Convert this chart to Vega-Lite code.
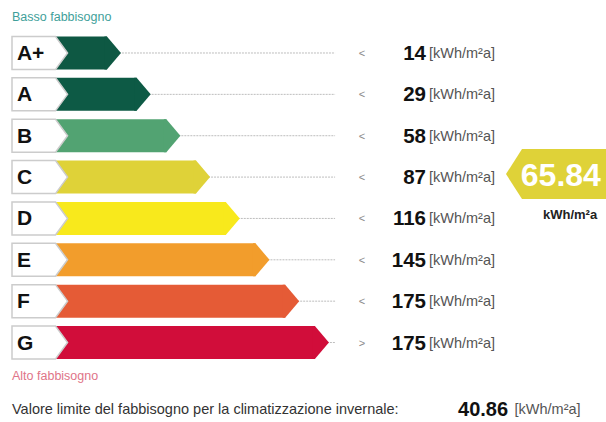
{
  "$schema": "https://vega.github.io/schema/vega-lite/v6.json",
  "width": 606,
  "height": 422,
  "autosize": "none",
  "padding": 0,
  "background": "white",
  "config": {"view": {"stroke": null}, "axis": {"disable": true}, "font": "Liberation Sans"},
  "data": {"values": [
    {"cls": "A+", "rank": 1, "limit": 14, "op": "<"},
    {"cls": "A", "rank": 2, "limit": 29, "op": "<"},
    {"cls": "B", "rank": 3, "limit": 58, "op": "<"},
    {"cls": "C", "rank": 4, "limit": 87, "op": "<"},
    {"cls": "D", "rank": 5, "limit": 116, "op": "<"},
    {"cls": "E", "rank": 6, "limit": 145, "op": "<"},
    {"cls": "F", "rank": 7, "limit": 175, "op": "<"},
    {"cls": "G", "rank": 8, "limit": 175, "op": ">"}
  ]},
  "resolve": {"scale": {"color": "independent"}},
  "layer": [
    {
      "mark": {"type": "rule", "color": "#bdbdbd", "strokeWidth": 1, "strokeDash": [2, 1]},
      "encoding": {
        "x": {"field": "rank", "type": "quantitative", "scale": {"domain": [-2.6, 17.8], "nice": false, "zero": false, "padding": 0}},
        "x2": {"datum": 8.68, "type": "quantitative"},
        "y": {"field": "rank", "type": "quantitative", "scale": {"domain": [-0.2814, 9.9216], "nice": false, "zero": false, "reverse": true, "padding": 0}}
      }
    },
    {
      "mark": {"type": "bar", "height": 33},
      "encoding": {
        "x": {"field": "rank", "type": "quantitative"},
        "x2": {"datum": -0.72, "type": "quantitative"},
        "y": {"field": "rank", "type": "quantitative"},
        "color": {"field": "cls", "type": "nominal", "legend": null,
          "scale": {"domain": ["A+", "A", "B", "C", "D", "E", "F", "G"],
                    "range": ["#0e5843", "#0d5a45", "#52a372", "#dfd238", "#f8e91c", "#f29d2c", "#e55b36", "#d10d3a"]}}
      }
    },
    {
      "mark": {"type": "point", "shape": "M -0.15 -1 L 0 -1 L 0.85 0 L 0 1 L -0.15 1 Z", "size": 1089, "filled": true, "opacity": 1, "strokeWidth": 0},
      "encoding": {
        "x": {"field": "rank", "type": "quantitative"},
        "y": {"field": "rank", "type": "quantitative"},
        "color": {"field": "cls", "type": "nominal", "legend": null,
          "scale": {"domain": ["A+", "A", "B", "C", "D", "E", "F", "G"],
                    "range": ["#0e5843", "#0d5a45", "#52a372", "#dfd238", "#f8e91c", "#f29d2c", "#e55b36", "#d10d3a"]}}
      }
    },
    {
      "mark": {"type": "point", "shape": "M -1.667 -1 L 0.97 -1 L 1.7 0 L 0.97 1 L -1.667 1 Z", "size": 1089, "filled": false, "fill": "white", "fillOpacity": 1, "stroke": "#cccccc", "strokeWidth": 1.5, "opacity": 1},
      "encoding": {
        "x": {"datum": -1.27, "type": "quantitative"},
        "y": {"field": "rank", "type": "quantitative"}
      }
    },
    {
      "mark": {"type": "text", "align": "left", "baseline": "middle", "fontSize": 21, "fontWeight": "bold", "color": "#111", "dy": 1},
      "encoding": {
        "x": {"datum": -2.03, "type": "quantitative"},
        "y": {"field": "rank", "type": "quantitative"},
        "text": {"field": "cls"}
      }
    },
    {
      "mark": {"type": "text", "align": "center", "baseline": "middle", "fontSize": 11, "color": "#8a8a8a", "dy": 1},
      "encoding": {
        "x": {"datum": 9.586, "type": "quantitative"},
        "y": {"field": "rank", "type": "quantitative"},
        "text": {"field": "op"}
      }
    },
    {
      "mark": {"type": "text", "align": "right", "baseline": "middle", "fontSize": 20.5, "fontWeight": "bold", "color": "#111", "dy": 1},
      "encoding": {
        "x": {"datum": 11.74, "type": "quantitative"},
        "y": {"field": "rank", "type": "quantitative"},
        "text": {"field": "limit"}
      }
    },
    {
      "mark": {"type": "text", "align": "left", "baseline": "middle", "fontSize": 14.5, "color": "#555", "dy": 1},
      "encoding": {
        "x": {"datum": 11.84, "type": "quantitative"},
        "y": {"field": "rank", "type": "quantitative"},
        "text": {"value": "[kWh/m²a]"}
      }
    },
    {
      "data": {"values": [{"cls": "C", "rank": 4, "value": "65.84"}]},
      "mark": {"type": "point", "shape": "M -2.0 0 L -1.36 -1 L 2.5 -1 L 2.5 1 L -1.36 1 Z", "size": 2500, "filled": true, "opacity": 1, "strokeWidth": 0, "color": "#dfd238", "yOffset": -3},
      "encoding": {
        "x": {"datum": 16.117, "type": "quantitative"},
        "y": {"field": "rank", "type": "quantitative"}
      }
    },
    {
      "data": {"values": [{"cls": "C", "rank": 4, "value": "65.84"}]},
      "mark": {"type": "text", "align": "center", "baseline": "middle", "fontSize": 32, "fontWeight": "bold", "color": "white", "yOffset": -1},
      "encoding": {
        "x": {"datum": 16.28, "type": "quantitative"},
        "y": {"field": "rank", "type": "quantitative"},
        "text": {"field": "value"}
      }
    },
    {
      "data": {"values": [{"unit": "kWh/m²a"}]},
      "mark": {"type": "text", "align": "center", "baseline": "middle", "fontSize": 13, "fontWeight": "bold", "color": "#222"},
      "encoding": {
        "x": {"datum": 16.59, "type": "quantitative"},
        "y": {"datum": 4.92, "type": "quantitative"},
        "text": {"field": "unit"}
      }
    },
    {
      "data": {"values": [{"label": "Basso fabbisogno"}]},
      "mark": {"type": "text", "align": "left", "baseline": "middle", "fontSize": 12.5, "color": "#3f9f9a"},
      "encoding": {
        "x": {"datum": -2.196, "type": "quantitative"},
        "y": {"datum": 0.13, "type": "quantitative"},
        "text": {"field": "label"}
      }
    },
    {
      "data": {"values": [{"label": "Alto fabbisogno"}]},
      "mark": {"type": "text", "align": "left", "baseline": "middle", "fontSize": 12.5, "color": "#e07488"},
      "encoding": {
        "x": {"datum": -2.196, "type": "quantitative"},
        "y": {"datum": 8.81, "type": "quantitative"},
        "text": {"field": "label"}
      }
    },
    {
      "data": {"values": [{"label": "Valore limite del fabbisogno per la climatizzazione invernale:"}]},
      "mark": {"type": "text", "align": "left", "baseline": "middle", "fontSize": 14.5, "color": "#333"},
      "encoding": {
        "x": {"datum": -2.196, "type": "quantitative"},
        "y": {"datum": 9.63, "type": "quantitative"},
        "text": {"field": "label"}
      }
    },
    {
      "data": {"values": [{"value": "40.86"}]},
      "mark": {"type": "text", "align": "left", "baseline": "middle", "fontSize": 20, "fontWeight": "bold", "color": "#111"},
      "encoding": {
        "x": {"datum": 12.818, "type": "quantitative"},
        "y": {"datum": 9.63, "type": "quantitative"},
        "text": {"field": "value"}
      }
    },
    {
      "data": {"values": [{"unit": "[kWh/m²a]"}]},
      "mark": {"type": "text", "align": "left", "baseline": "middle", "fontSize": 14.5, "color": "#555"},
      "encoding": {
        "x": {"datum": 14.72, "type": "quantitative"},
        "y": {"datum": 9.63, "type": "quantitative"},
        "text": {"field": "unit"}
      }
    }
  ]
}
